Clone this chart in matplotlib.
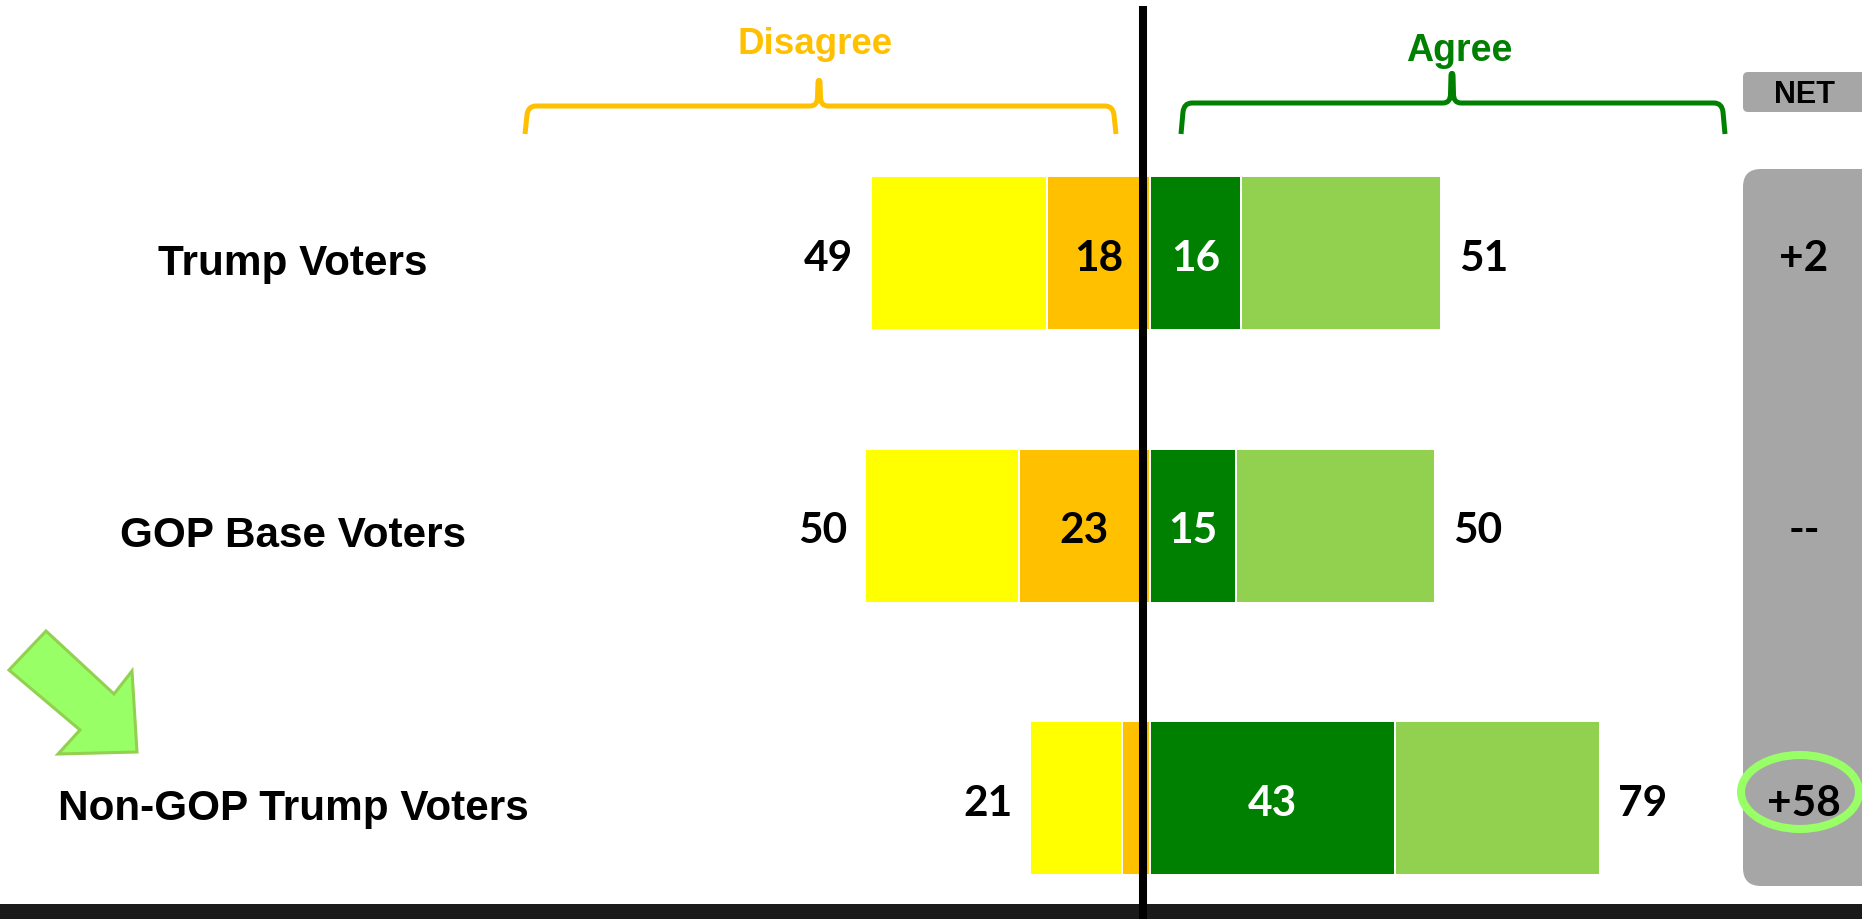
import matplotlib
matplotlib.use("Agg")
import matplotlib.pyplot as plt
from matplotlib.path import Path
from matplotlib.patches import PathPatch, Polygon, FancyBboxPatch, Ellipse, Rectangle

groups = ["Trump Voters", "GOP Base Voters", "Non-GOP Trump Voters"]
disagree_total = [49, 50, 21]
disagree_strong = [18, 23, 5]
agree_total = [51, 50, 79]
agree_strong = [16, 15, 43]
net_labels = ["+2", "--", "+58"]

YELLOW = "#FFFF00"
ORANGE = "#FFC000"
DKGREEN = "#008000"
LTGREEN = "#92D050"
GRAY = "#A6A6A6"

W, H = 1862, 920
fig = plt.figure(figsize=(W / 100, H / 100), dpi=100)
fig.patch.set_facecolor("white")

# main axes: x in percentage points (0 at 1150 px, 5.7 px / point); y in row index
PX_PER_UNIT = 5.7
X0 = 1150
ROW0, ROWSTEP = 254, 272.5
ax = fig.add_axes([0, 0, 1, 1])
ax.set_xlim(-X0 / PX_PER_UNIT, (W - X0) / PX_PER_UNIT)
ax.set_ylim((H - ROW0) / ROWSTEP, -ROW0 / ROWSTEP)
ax.axis("off")

ypos = list(range(len(groups)))
bh = 154 / ROWSTEP
soft_dis = [t - s for t, s in zip(disagree_total, disagree_strong)]
soft_agr = [t - s for t, s in zip(agree_total, agree_strong)]
ekw = dict(edgecolor="white", linewidth=1.4)
ax.barh(ypos, soft_dis, left=[-t for t in disagree_total], height=bh, color=YELLOW, **ekw)
ax.barh(ypos, disagree_strong, left=[-s for s in disagree_strong], height=bh, color=ORANGE, **ekw)
ax.barh(ypos, agree_strong, left=0, height=bh, color=DKGREEN, **ekw)
ax.barh(ypos, soft_agr, left=agree_strong, height=bh, color=LTGREEN, **ekw)

NUMFONT = dict(family="Lato", fontweight="bold", fontsize=30.5)
LBLFONT = dict(family="Liberation Sans", fontweight="bold")
base_off = 17 / ROWSTEP
gap = 18 / PX_PER_UNIT
for i in ypos:
    yb = i + base_off
    ax.text(-disagree_total[i] - gap, yb, str(disagree_total[i]), ha="right", va="baseline",
            color="black", **NUMFONT)
    ax.text(agree_total[i] + gap, yb, str(agree_total[i]), ha="left", va="baseline",
            color="black", **NUMFONT)
    if disagree_strong[i] >= 10:
        ax.text(-disagree_strong[i] / 2, yb, str(disagree_strong[i]), ha="center", va="baseline",
                color="black", **NUMFONT)
    ax.text(agree_strong[i] / 2, yb, str(agree_strong[i]), ha="center", va="baseline",
            color="white", **NUMFONT)
    ax.text(-X0 / PX_PER_UNIT + 293 / PX_PER_UNIT, i + 21 / ROWSTEP, groups[i], ha="center",
            va="baseline", fontsize=30.4, color="black", **LBLFONT)

# decoration overlay in pixel coordinates
deco = fig.add_axes([0, 0, 1, 1])
deco.set_xlim(0, W)
deco.set_ylim(H, 0)
deco.axis("off")
deco.patch.set_alpha(0)

# bottom band
deco.add_patch(Rectangle((0, 905), W, 15, facecolor="#1A1A1A", edgecolor="none"))
# center line
deco.plot([1143, 1143], [7, 920], color="black", linewidth=5.8, solid_capstyle="butt")


def brace(x0, x1, xp, yh, ytop, yb, color):
    verts = [
        (x0, yb), (x0 + 2, yh + 9),
        (x0 + 3, yh), (x0 + 11, yh),
        (xp - 9, yh),
        (xp - 1.5, yh), (xp - 1.5, yh - 9),
        (xp - 1, ytop + 4),
        (xp, ytop), (xp + 1, ytop + 4),
        (xp + 1.5, yh - 9),
        (xp + 1.5, yh), (xp + 9, yh),
        (x1 - 11, yh),
        (x1 - 3, yh), (x1 - 2, yh + 9),
        (x1, yb),
    ]
    codes = [Path.MOVETO, Path.LINETO,
             Path.CURVE3, Path.CURVE3,
             Path.LINETO,
             Path.CURVE3, Path.CURVE3,
             Path.LINETO,
             Path.CURVE3, Path.CURVE3,
             Path.LINETO,
             Path.CURVE3, Path.CURVE3,
             Path.LINETO,
             Path.CURVE3, Path.CURVE3,
             Path.LINETO]
    deco.add_patch(PathPatch(Path(verts, codes), facecolor="none", edgecolor=color,
                             linewidth=3.6, capstyle="butt", joinstyle="round"))


brace(525, 1116, 819, 107, 79, 135, ORANGE)
brace(1181, 1725, 1452, 104, 72, 135, DKGREEN)

deco.text(815, 54, "Disagree", ha="center", va="baseline", fontsize=26.5, color=ORANGE, **LBLFONT)
deco.text(1459, 61, "Agree", ha="center", va="baseline", fontsize=27, color=DKGREEN, **LBLFONT)

# NET header and column
deco.add_patch(FancyBboxPatch((1743, 73), 160, 40, boxstyle="round,pad=0,rounding_size=5",
                              facecolor=GRAY, edgecolor="none"))
deco.text(1805, 103, "NET", ha="center", va="baseline", fontsize=22, color="black", **LBLFONT)
deco.add_patch(FancyBboxPatch((1743, 170), 160, 717, boxstyle="round,pad=0,rounding_size=18",
                              facecolor=GRAY, edgecolor="none"))
for i, lab in enumerate(net_labels):
    deco.text(1804, ROW0 + ROWSTEP * i + 17, lab, ha="center", va="baseline", color="black", **NUMFONT)

# highlight ellipse
deco.add_patch(Ellipse((1800, 793), 118, 74, facecolor="none", edgecolor="#99FF66", linewidth=5.8))

# arrow
arrow_pts = [(46, 632), (114, 695), (132, 672), (137, 753), (58, 755), (80, 731), (9, 671)]
deco.add_patch(Polygon(arrow_pts, closed=True, facecolor="#99FF66", edgecolor="#92D050",
                       linewidth=2.2, joinstyle="miter"))

fig.savefig("out.png", dpi=100)
